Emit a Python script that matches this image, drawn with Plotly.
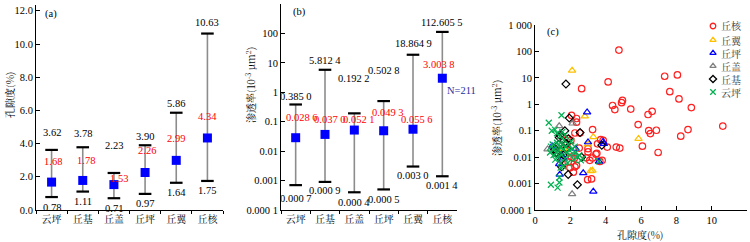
import math
import plotly.graph_objects as go

# ---------------- data ----------------
cats = ["云坪", "丘基", "丘盖", "丘坪", "丘翼", "丘核"]
por_min = [0.78, 1.11, 0.71, 0.97, 1.64, 1.75]
por_mean = [1.68, 1.78, 1.53, 2.26, 2.99, 4.34]
por_max = [3.62, 3.78, 2.23, 3.90, 5.86, 10.63]
perm_min = [0.0007, 0.0009, 0.0004, 0.0005, 0.0030, 0.0014]
perm_mean = [0.0286, 0.0370, 0.0521, 0.0493, 0.0556, 3.0038]
perm_max = [0.3850, 5.8124, 0.1922, 0.5028, 18.8649, 112.6055]
n_total = 211

por_ticks = [0, 2, 4, 6, 8, 10, 12]
perm_ticks = [0.0001, 0.001, 0.01, 0.1, 1, 10, 100, 1000]
perm_ticktext = ["0.000 1", "0.001", "0.01", "0.1", "1", "10", "100", "1 000"]
c_xticks = [0, 2, 4, 6, 8, 10, 12]

# scatter (c): porosity, permeability per facies
qh_por = [4.75, 4.14, 2.64, 7.34, 8.06, 7.63, 8.15, 8.85, 4.95, 4.90, 4.39, 4.52, 5.42, 6.63, 6.40,
          5.84, 6.44, 6.53, 6.87, 8.66, 8.25, 10.63, 6.08, 6.97, 4.60, 4.80, 4.09, 3.26, 3.72, 3.54,
          3.45, 3.67, 3.10, 3.26, 3.00, 2.98, 3.20, 2.26, 2.17, 2.07, 2.35, 2.35, 2.26, 2.03, 2.50,
          2.07, 1.88, 1.80, 1.85, 2.54, 3.86, 3.00, 2.22, 2.90, 2.35, 1.98, 3.50, 3.80]
qh_perm = [112.6, 7.0, 3.9, 11.5, 12.9, 3.0, 1.6, 0.75, 1.4, 1.15, 0.9, 0.63, 0.66, 0.54, 0.41,
           0.17, 0.10, 0.078, 0.104, 0.11, 0.062, 0.15, 0.026, 0.015, 0.024, 0.022, 0.024, 0.11, 0.046, 0.032,
           0.013, 0.0069, 0.0076, 0.0093, 0.0157, 0.0014, 0.0015, 0.0043, 0.0027, 0.38, 0.29, 0.21, 0.082, 0.043, 0.022,
           0.010, 0.0066, 0.030, 0.050, 0.082, 0.043, 0.021, 0.009, 0.0095, 0.0049, 0.004, 0.014, 0.0076]
qy_por = [2.10, 2.82, 3.30, 3.00, 5.86, 3.15, 3.25, 1.64]
qy_perm = [18.86, 0.35, 0.058, 0.031, 0.050, 0.0030, 0.0031, 0.020]
qp_por = [2.95, 3.00, 3.90, 3.85, 3.62, 2.73, 3.30, 1.40, 1.37, 2.30, 0.97, 1.50, 1.60]
qp_perm = [0.50, 0.037, 0.032, 0.038, 0.0068, 0.0025, 0.0005, 0.0022, 0.0055, 0.021, 0.026, 0.012, 0.009]
qg_por = [0.71, 1.37, 2.13, 2.10, 1.50, 2.23, 1.20]
qg_perm = [0.020, 0.15, 0.19, 0.0004, 0.030, 0.012, 0.012]
qj_por = [1.75, 1.94, 2.55, 1.69, 3.78, 1.88, 2.40, 1.50, 1.37, 1.41, 1.35, 1.79, 1.11, 1.60, 2.64,
          1.50, 1.20, 1.80, 1.90]
qj_perm = [5.81, 0.30, 0.085, 0.10, 0.028, 0.0022, 0.0009, 0.0043, 0.055, 0.067, 0.030, 0.033, 0.020, 0.012, 0.010,
           0.008, 0.015, 0.022, 0.050]
yp_por = [0.78, 1.50, 0.95, 1.13, 1.25, 1.40, 1.55, 1.70, 0.90, 1.28, 1.38, 1.38, 1.00, 1.10, 1.20,
          1.30, 1.40, 1.50, 1.60, 1.70, 1.80, 1.90, 2.00, 2.10, 2.20, 2.30, 2.40, 2.50, 2.60, 2.70,
          1.05, 1.15, 1.25, 1.35, 1.45, 1.55, 1.65, 1.75, 1.85, 1.95, 2.05, 2.25, 1.60, 1.45, 0.85,
          0.90, 3.62]
yp_perm = [0.20, 0.385, 0.10, 0.11, 0.08, 0.06, 0.09, 0.07, 0.0009, 0.0007, 0.0011, 0.0017, 0.030, 0.020, 0.015,
           0.010, 0.025, 0.012, 0.020, 0.009, 0.015, 0.030, 0.012, 0.020, 0.008, 0.015, 0.010, 0.012, 0.0075, 0.009,
           0.012, 0.008, 0.035, 0.018, 0.006, 0.030, 0.045, 0.025, 0.006, 0.018, 0.040, 0.025, 0.0045, 0.004, 0.015,
           0.025, 0.007]

# ---------------- styling ----------------
W, H = 750, 242
FS = 10.5
FONT = "Liberation Serif, Times New Roman, Noto Sans CJK SC"
CJK = "Noto Serif CJK SC, Noto Sans CJK SC, Liberation Serif"


def px_x(p):
    return p / W


def px_y(p):
    return 1 - p / H


def fmt4(v):
    s = f"{v:.4f}"
    i, f = s.split(".")
    return f"{i}.{f[:3]} {f[3:]}"


fig = go.Figure()


def range_panel(xa, ya, lo, mid, hi):
    fig.add_trace(go.Scatter(
        x=cats, y=mid, mode="markers", marker=dict(size=1, opacity=0),
        error_y=dict(type="data", symmetric=False,
                     array=[h - m for h, m in zip(hi, mid)],
                     arrayminus=[m - l for m, l in zip(mid, lo)],
                     color="#8c8c8c", thickness=1.6, width=0),
        xaxis=xa, yaxis=ya, showlegend=False, hoverinfo="skip"))
    fig.add_trace(go.Scatter(
        x=cats + cats, y=lo + hi, mode="markers",
        marker=dict(symbol="line-ew", size=9, line=dict(width=2.2, color="black")),
        xaxis=xa, yaxis=ya, showlegend=False))
    fig.add_trace(go.Scatter(
        x=cats, y=mid, mode="markers",
        marker=dict(symbol="square", size=9, color="#0000ff"),
        xaxis=xa, yaxis=ya, showlegend=False))


range_panel("x", "y", por_min, por_mean, por_max)
range_panel("x2", "y2", perm_min, perm_mean, perm_max)

# ---- panel (c) ----
series = [
    ("丘核", qh_por, qh_perm, "circle-open", "#ff2020", 6.5),
    ("丘翼", qy_por, qy_perm, "triangle-up-open", "#ffc000", 6.5),
    ("丘坪", qp_por, qp_perm, "triangle-up-open", "#0000ff", 6.5),
    ("丘盖", qg_por, qg_perm, "triangle-up-open", "#808080", 6.5),
    ("丘基", qj_por, qj_perm, "diamond-open", "#000000", 6),
    ("云坪", yp_por, yp_perm, "x-thin-open", "#00b050", 6),
]
for name, xs, ys, sym, col, sz in series:
    fig.add_trace(go.Scatter(
        x=xs, y=ys, mode="markers", name=name,
        marker=dict(symbol=sym, size=sz, color=col, line=dict(width=1.2, color=col)),
        xaxis="x3", yaxis="y3", showlegend=False))

# manual legend (hidden helper axis in pixel units)
leg_y = [26, 40, 53, 66, 79, 92]
for (name, xs, ys, sym, col, sz), ly in zip(series, leg_y):
    fig.add_trace(go.Scatter(
        x=[713], y=[ly], mode="markers",
        marker=dict(symbol=sym, size=5.5, color=col, line=dict(width=1.3, color=col)),
        xaxis="x4", yaxis="y4", showlegend=False, hoverinfo="skip"))

ann = []


def dlabel(xref, yref, x, y, text, dx=0, dy=0, color="black"):
    ann.append(dict(x=x, y=y, xref=xref, yref=yref, text=text, xshift=dx, yshift=dy,
                    xanchor="center", yanchor="middle", showarrow=False,
                    font=dict(color=color, size=FS)))


# panel a labels
a_max_dy = [17, 14, 27, 9, 9, 11]
a_mean_shift = [(1, 21), (3, 20), (5, 6), (2, 22), (0, 22), (0, 21)]
for c, mn, m, mx, my, (dx, dy) in zip(cats, por_min, por_mean, por_max, a_max_dy, a_mean_shift):
    dlabel("x", "y", c, mx, f"{mx:.2f}", dy=my)
    dlabel("x", "y", c, mn, f"{mn:.2f}", dy=-10)
    dlabel("x", "y", c, m, f"{m:.2f}", dx=dx, dy=dy, color="#ff0000")

# panel b labels
b_max_dy = [8, 9, 35, 31, 11, 9]
b_min_dy = [-13, -9, -10, -10, -9, -9]
b_mean_shift = [(6, 20), (5, 15), (5, 11), (4, 18), (4, 10), (-3, 14)]
for c, mn, m, mx, ty, by, (dx, dy) in zip(cats, perm_min, perm_mean, perm_max, b_max_dy, b_min_dy, b_mean_shift):
    dlabel("x2", "y2", c, math.log10(mx), fmt4(mx), dy=ty)
    dlabel("x2", "y2", c, math.log10(mn), fmt4(mn), dy=by)
    dlabel("x2", "y2", c, math.log10(m), fmt4(m), dx=dx, dy=dy, color="#ff0000")
ann.append(dict(x=cats[-1], y=math.log10(perm_mean[-1]), xref="x2", yref="y2", text=f"N={n_total}",
                xanchor="left", yanchor="middle", xshift=3, yshift=-12, showarrow=False,
                font=dict(color="#1f2f9f", size=FS)))


def plabel(x, y, text, angle=0, family=FONT, size=FS, color="black", xanchor="center"):
    ann.append(dict(x=px_x(x), y=px_y(y), xref="paper", yref="paper", text=text, textangle=angle,
                    xanchor=xanchor, yanchor="middle", showarrow=False,
                    font=dict(family=family, size=size, color=color)))


# panel tags
plabel(51, 14, "(a)")
plabel(299, 12, "(b)")
plabel(553, 32, "(c)")

# axis titles
plabel(9, 95, "孔隙度(%)", angle=-90, family=CJK, size=10)
plabel(250, 85, "渗透率(10<sup>-3</sup> μm<sup>2</sup>)", angle=-90, family=CJK, size=10)
plabel(497, 118, "渗透率(10<sup>-3</sup> μm<sup>2</sup>)", angle=-90, family=CJK, size=10)
plabel(640, 234, "孔隙度(%)", family=CJK, size=10)

# legend texts
for (name, *_), ly in zip(series, leg_y):
    plabel(719, ly, name, family=CJK, size=10, color="#333333", xanchor="left")

axis_common = dict(showline=True, linecolor="black", linewidth=1, showgrid=False, zeroline=False,
                   tickcolor="black", tickfont=dict(size=FS), automargin=False)
cat_axis = dict(axis_common, type="category", range=[-0.5, 5.5], ticks="outside", ticklen=3,
                tickson="boundaries", tickangle=0, tickfont=dict(family=CJK, size=10))

fig.update_layout(
    width=W, height=H, margin=dict(l=0, r=0, t=0, b=0, autoexpand=False),
    paper_bgcolor="white", plot_bgcolor="rgba(0,0,0,0)",
    font=dict(family=FONT, size=FS, color="black"),
    showlegend=False,
    xaxis=dict(cat_axis, domain=[px_x(36), px_x(223)], anchor="y"),
    yaxis=dict(axis_common, domain=[px_y(210), px_y(5)], range=[0, 12.35], anchor="x",
               tickvals=por_ticks, ticktext=[f"{t:.1f}" for t in por_ticks], ticks="inside", ticklen=4),
    xaxis2=dict(cat_axis, domain=[px_x(281), px_x(457)], anchor="y2"),
    yaxis2=dict(axis_common, type="log", domain=[px_y(210), px_y(4)], range=[-4, 3], anchor="x2",
                tickvals=perm_ticks, ticktext=perm_ticktext, ticks="inside", ticklen=4),
    xaxis3=dict(axis_common, domain=[px_x(535), px_x(747)], range=[0, 12], anchor="y3",
                tickvals=c_xticks, ticks="inside", ticklen=4),
    yaxis3=dict(axis_common, type="log", domain=[px_y(210), px_y(25)], range=[-4, 3], anchor="x3",
                tickvals=perm_ticks, ticktext=perm_ticktext, ticks="inside", ticklen=4),
    xaxis4=dict(domain=[0, 1], range=[0, W], visible=False, anchor="y4", fixedrange=True, automargin=False),
    yaxis4=dict(domain=[0, 1], range=[H, 0], visible=False, anchor="x4", fixedrange=True, automargin=False),
    annotations=ann,
)

fig.write_html(
    "out.html",
    config={"displayModeBar": False, "staticPlot": True},
    post_script="document.body.style.margin='0';document.body.style.padding='0';"
                "document.body.style.overflow='hidden';document.documentElement.style.overflow='hidden';",
)
